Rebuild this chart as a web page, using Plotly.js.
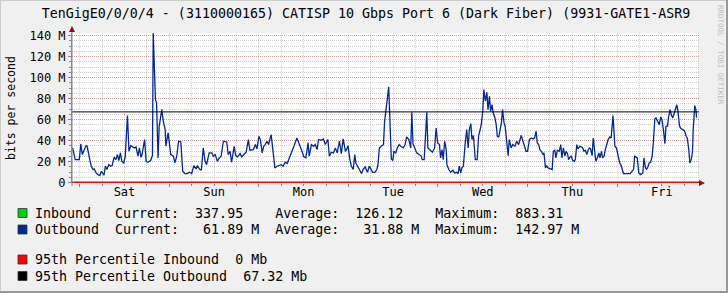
<!DOCTYPE html>
<html><head><meta charset="utf-8">
<script src="https://cdn.plot.ly/plotly-3.0.1.min.js"></script>
<style>html,body{margin:0;padding:0;background:#F0F0F0;}#chart{width:728px;height:293px;}</style>
</head><body><div id="chart"></div>
<script>
// ---- data (hours since Saturday 00:00, Mbps) ----
const outT = [-1.9,-1.2,-0.1,0.3,0.7,1.2,1.7,2.0,2.4,2.8,3.1,3.6,3.9,4.4,4.9,5.4,5.8,6.2,6.5,6.9,7.3,7.8,8.3,8.7,9.2,9.7,10.1,10.5,10.9,11.3,11.8,12.2,12.8,13.2,13.7,14.3,14.7,15.1,15.6,16.0,16.4,16.7,17.4,17.8,18.3,19.0,19.5,19.7,20.3,20.6,21.0,21.3,22.0,22.4,22.9,23.1,23.7,24.4,25.1,25.5,26.0,26.5,27.1,27.6,28.2,28.8,29.4,30.0,30.6,31.2,31.5,32.1,32.6,33.1,33.6,34.0,34.7,35.4,35.8,36.3,36.9,37.4,37.9,38.5,39.4,39.8,40.3,40.7,41.4,41.8,42.3,43.0,43.4,44.0,44.6,45.2,45.6,46.5,47.1,47.5,48.0,48.4,48.9,49.3,49.7,50.2,50.6,51.3,51.7,52.3,52.9,53.5,54.0,54.5,55.1,55.6,56.2,56.7,57.4,58.2,58.8,59.4,60.0,60.6,61.2,61.5,62.1,62.7,63.1,63.6,64.0,64.7,65.3,65.8,66.5,66.9,67.4,68.0,68.5,69.0,69.6,70.1,70.6,71.2,71.5,71.9,72.4,72.8,73.3,73.7,74.0,74.6,75.1,75.5,76.0,76.5,77.1,77.6,78.0,78.5,79.1,79.6,79.9,80.3,80.8,81.4,81.7,82.1,82.4,82.8,83.2,83.5,83.9,84.2,84.7,85.1,85.6,86.0,86.7,87.2,87.6,88.2,88.7,89.0,89.3,89.8,90.3,90.9,91.4,91.8,92.3,92.6,93.0,93.3,93.9,94.5,95.1,95.5,95.9,96.4,96.7,97.1,97.4,97.8,98.2,98.4,98.9,99.4,100.0,100.5,101.0,101.4,101.7,102.1,102.4,102.8,103.3,103.7,104.1,104.4,104.8,105.1,105.5,106.0,106.5,106.9,107.3,107.6,108.0,108.3,108.7,109.1,109.4,109.8,110.1,110.5,110.8,111.2,111.6,111.9,112.3,112.6,113.0,113.3,113.7,114.0,114.4,114.8,115.1,115.6,116.0,116.6,117.1,117.6,118.3,118.7,119.1,119.6,120.0,120.5,121.0,121.5,121.9,122.3,122.6,123.0,123.3,123.7,124.1,124.4,124.8,125.1,125.5,126.0,126.6,126.9,127.3,127.6,128.0,128.5,128.9,129.2,129.6,130.0,130.3,130.7,131.0,131.4,131.7,132.1,132.5,132.8,133.2,133.5,134.0,134.4,134.8,135.1,135.5,135.9,136.2,136.6,136.9,137.3,137.6,138.0,138.3,138.7,139.1,139.4,139.8,140.1,140.5,140.8,141.2,141.6,142.0,142.4,142.9,143.4,143.8,144.2,144.7,145.1,145.7,146.6,147.5,148.0,148.4,148.7,149.1,149.4,149.8,150.3,150.9,151.2,151.6,151.9,152.3,152.6,153.0,153.4,153.7,154.1,154.4,155.0,155.3,155.7,156.0,156.4,156.8,157.1,157.5,157.8,158.2,158.5,158.9,159.2,159.6,160.0,160.3,160.7,161.0,161.4,161.7,162.1,162.5,162.8,163.2,163.5,163.9,164.2,164.4,164.8,165.1,165.3];
const outV = [33.0,21.9,21.9,36.8,26.7,30.8,35.2,34.6,25.1,20.3,15.6,12.4,13.0,9.2,7.6,6.7,10.8,9.2,7.0,15.6,12.4,17.1,15.6,16.2,24.1,21.9,26.7,21.0,28.2,20.3,18.7,24.8,63.8,29.8,35.2,33.7,33.0,34.0,25.1,33.0,24.1,26.7,41.0,20.3,19.4,21.0,25.7,142.97,79.0,75.9,23.5,53.7,69.5,58.4,50.5,34.6,47.3,26.7,25.1,18.7,25.1,39.4,38.7,10.8,8.6,8.6,9.8,8.6,16.2,13.0,16.2,13.0,11.7,33.0,20.3,17.1,28.3,28.3,25.1,26.7,20.3,23.5,25.1,39.4,38.7,26.7,29.8,19.4,34.6,25.7,24.4,27.6,24.4,26.7,28.9,41.0,30.8,31.4,36.2,32.0,44.1,41.0,28.3,34.6,36.2,39.4,36.2,45.7,34.6,14.0,15.6,16.2,17.1,15.6,19.4,18.1,23.5,26.7,34.6,42.5,37.8,31.4,25.1,23.5,37.8,25.1,36.2,34.6,36.2,31.4,41.0,40.3,41.6,36.2,41.0,25.1,28.9,28.3,33.0,28.3,39.4,27.6,41.6,29.8,31.4,35.2,21.9,15.6,12.4,26.7,18.7,14.0,10.8,8.6,13.0,14.9,9.8,15.6,13.0,9.8,9.8,12.4,16.2,33.0,34.6,36.2,58.4,74.3,79.0,91.1,42.5,22.5,21.0,29.8,28.3,33.0,36.2,34.6,33.0,36.2,43.5,41.0,33.0,67.0,37.1,33.0,28.3,26.7,25.7,21.9,21.9,41.0,67.0,33.0,30.8,28.9,33.0,52.0,37.8,36.2,23.5,31.4,21.9,39.4,31.4,17.1,12.4,9.8,11.7,9.2,9.8,8.6,15.6,9.2,14.0,15.6,37.8,50.5,33.0,50.5,56.2,41.0,44.8,21.9,21.9,44.8,50.5,55.2,67.9,88.6,77.5,86.0,69.5,82.2,67.9,74.3,66.3,62.5,55.2,44.1,43.5,50.5,56.8,69.5,56.8,53.7,37.8,25.7,41.0,33.0,36.2,34.6,39.4,36.2,44.8,39.4,36.2,29.8,29.8,41.0,42.5,41.6,42.5,48.9,37.8,36.2,31.4,29.8,26.7,28.3,14.0,16.2,14.0,13.0,12.4,29.8,30.8,23.5,30.8,29.8,36.2,23.5,33.0,25.1,29.8,27.6,21.9,24.4,25.1,21.3,20.3,21.9,36.2,32.1,34.6,34.0,33.0,29.8,30.8,26.7,30.8,33.0,32.1,25.7,42.5,29.8,20.3,23.5,28.3,23.5,29.8,23.5,25.1,30.8,36.2,41.0,43.5,42.5,63.8,34.6,33.0,25.1,18.7,16.2,8.6,8.6,8.6,10.8,12.4,25.1,24.4,23.5,9.2,7.6,9.2,23.5,14.0,12.4,15.6,18.7,19.4,25.7,37.8,60.6,61.6,56.8,55.2,62.5,60.0,50.5,37.1,53.7,53.7,62.5,69.5,64.8,61.6,64.8,69.5,74.3,67.9,54.3,52.0,50.5,49.8,48.9,44.1,42.5,31.4,18.7,22.5,29.8,51.1,73.3,69.5,61.89];
const inT = [-1.9, 30.0, 60.0, 90.0, 120.0, 150.0, 165.3];
const inV = [0.00012, 0.00009, 0.00015, 0.00011, 0.00013, 0.00010, 0.00034];
const p95In = 0;      // Mb
const p95Out = 67.32; // Mb
const xRange = [-2.06, 165.94];
const yRange = [-0.4, 142.46];
const dayNoon = [12, 36, 60, 84, 108, 132, 156];
const dayNames = ['Sat', 'Sun', 'Mon', 'Tue', 'Wed', 'Thu', 'Fri'];
const yTickVals = [0, 20, 40, 60, 80, 100, 120, 140];
const yTickText = ['0', '20 M', '40 M', '60 M', '80 M', '100 M', '120 M', '140 M'];
const seriesNames = ['Inbound', 'Outbound'];
const seriesColors = ['#00CF00', '#002A97'];
const curVals = ['337.95', '61.89'];
const avgVals = ['126.12', '31.88'];
const maxVals = ['883.31', '142.97'];
const units = ['', ' M'];
const pctNames = ['95th Percentile Inbound', '95th Percentile Outbound'];
const pctVals = [p95In, p95Out];
const pctColors = ['#FF0000', '#000000'];
const titleText = 'TenGigE0/0/0/4 - (3110000165) CATISP 10 Gbps Port 6 (Dark Fiber) (9931-GATE1-ASR9';

// ---- geometry helpers (pixel -> paper) ----
const W = 728, H = 293, L = 72, R = 29, T = 33, B = 110;
const pw = W - L - R, ph = H - T - B;
const px = x => (x - L) / pw;
const py = y => (H - B - y) / ph;
const MONO = 'DejaVu Sans Mono';
const nb = s => s.replace(/ /g, '\u00A0');
const majorGrid = 'rgba(235,0,0,0.24)';
const minorGrid = 'rgba(130,130,130,0.38)';

const traces = [
  {x: inT, y: inV, type: 'scatter', mode: 'lines', fill: 'tozeroy',
   line: {color: seriesColors[0], width: 0.5}, fillcolor: seriesColors[0], hoverinfo: 'skip'},
  {x: outT, y: outV, type: 'scatter', mode: 'lines',
   line: {color: seriesColors[1], width: 1.3}, hoverinfo: 'skip'},
  {x: xRange, y: [p95Out, p95Out], type: 'scatter', mode: 'lines',
   line: {color: pctColors[1], width: 1}, hoverinfo: 'skip'},
  {x: xRange, y: [p95In, p95In], xaxis: 'x2', type: 'scatter', mode: 'lines',
   line: {color: pctColors[0], width: 2}, hoverinfo: 'skip'}
];

const shapes = [];
const annotations = [];
// frame
shapes.push({type:'rect', xref:'paper', yref:'paper', x0:px(0), x1:px(728), y0:py(0), y1:py(1), fillcolor:'#CBCBCB', line:{width:0}, layer:'below'});
shapes.push({type:'rect', xref:'paper', yref:'paper', x0:px(0), x1:px(1), y0:py(0), y1:py(293), fillcolor:'#CBCBCB', line:{width:0}, layer:'below'});
shapes.push({type:'rect', xref:'paper', yref:'paper', x0:px(726), x1:px(728), y0:py(0), y1:py(293), fillcolor:'#999999', line:{width:0}, layer:'below'});
shapes.push({type:'rect', xref:'paper', yref:'paper', x0:px(0), x1:px(728), y0:py(291), y1:py(293), fillcolor:'#999999', line:{width:0}, layer:'below'});
// right edge dotted grid
shapes.push({type:'line', xref:'paper', yref:'paper', x0:px(698.5), x1:px(698.5), y0:py(33), y1:py(183), line:{color:majorGrid, width:1, dash:'1px,1px'}});
// y axis extension and arrow
shapes.push({type:'line', xref:'paper', yref:'paper', x0:px(72), x1:px(72), y0:py(186), y1:py(30), line:{color:'#8a8a8a', width:1}});
shapes.push({type:'path', xref:'paper', yref:'paper',
  path:`M ${px(69)} ${py(32)} L ${px(75)} ${py(32)} L ${px(72)} ${py(26)} Z`, fillcolor:'#8B1010', line:{width:0}});
// x axis arrow
shapes.push({type:'path', xref:'paper', yref:'paper',
  path:`M ${px(699)} ${py(180)} L ${px(699)} ${py(186)} L ${px(705)} ${py(183)} Z`, fillcolor:'#8B1010', line:{width:0}});

// watermark
annotations.push({text:'RRDTOOL / TOBI OETIKER', xref:'paper', yref:'paper', x:px(720), y:py(55),
  xanchor:'center', yanchor:'middle', textangle:90, showarrow:false,
  font:{family:MONO, size:7.5, color:'#BDBDBD'}});
// y axis title
annotations.push({text:'bits per second', xref:'paper', yref:'paper', x:px(11), y:py(108),
  xanchor:'center', yanchor:'middle', textangle:-90, showarrow:false,
  font:{family:MONO, size:11.5, color:'#000'}});

// legend rows
const rowsY = [213, 229.5, 259.5, 276];
function legendRow(yc, color, text) {
  shapes.push({type:'rect', xref:'paper', yref:'paper', x0:px(18), x1:px(27), y0:py(yc+4.5), y1:py(yc-4.5),
    fillcolor:color, line:{color:'#333', width:0.8}});
  annotations.push({text:nb(text), xref:'paper', yref:'paper', x:px(33), y:py(yc), xanchor:'left', yanchor:'middle',
    showarrow:false, font:{family:MONO, size:13.3, color:'#000'}});
}
for (let i = 0; i < 2; i++) {
  const line = seriesNames[i].padEnd(10) + 'Current:' + curVals[i].padStart(8) + units[i].padEnd(2) + '  ' +
    'Average:' + avgVals[i].padStart(8) + units[i].padEnd(2) + '  ' +
    'Maximum:' + maxVals[i].padStart(8) + units[i];
  legendRow(rowsY[i], seriesColors[i], line);
}
for (let i = 0; i < 2; i++) {
  legendRow(rowsY[2 + i], pctColors[i], pctNames[i] + '  ' + pctVals[i] + ' Mb');
}

const layout = {
  width: W, height: H,
  margin: {l: L, r: R, t: T, b: B, pad: 0},
  paper_bgcolor: '#F0F0F0', plot_bgcolor: '#FFFFFF',
  font: {family: MONO, size: 12, color: '#000'},
  showlegend: false,
  title: {text: titleText, xref: 'container', yref: 'container', x: 366 / W, xanchor: 'center',
          y: 1 - 13 / H, yanchor: 'middle', font: {family: MONO, size: 13.3, color: '#000'}},
  xaxis: {range: xRange, tickmode: 'linear', tick0: 0, dtick: 24, showticklabels: false,
          showgrid: true, gridcolor: majorGrid, griddash: '1px,1px', gridwidth: 1,
          ticks: 'outside', ticklen: 3, tickcolor: '#8a8a8a', tickwidth: 1,
          showline: false, zeroline: false, automargin: false, fixedrange: true,
          minor: {tickmode: 'linear', tick0: 0, dtick: 6, showgrid: true, gridcolor: minorGrid,
                  griddash: '1px,1px', gridwidth: 1, ticks: 'outside', ticklen: 2, tickcolor: '#8a8a8a'}},
  xaxis2: {range: xRange, overlaying: 'x', anchor: 'y', side: 'bottom',
           tickmode: 'array', tickvals: dayNoon, ticktext: dayNames, ticks: '',
           showgrid: false, zeroline: false, showline: false, automargin: false, fixedrange: true,
           tickfont: {family: MONO, size: 12, color: '#000'}},
  yaxis: {range: yRange, tickmode: 'array', tickvals: yTickVals, ticktext: yTickText,
          showgrid: true, gridcolor: majorGrid, griddash: '1px,1px', gridwidth: 1,
          ticks: 'outside', ticklen: 3, tickcolor: '#8a8a8a', tickwidth: 1,
          showline: true, linecolor: '#8a8a8a', linewidth: 1, zeroline: false,
          automargin: false, fixedrange: true, tickfont: {family: MONO, size: 12, color: '#000'},
          minor: {tickmode: 'linear', tick0: 0, dtick: 5, showgrid: true, gridcolor: minorGrid,
                  griddash: '1px,1px', gridwidth: 1, ticks: 'outside', ticklen: 2, tickcolor: '#8a8a8a'}},
  shapes: shapes,
  annotations: annotations
};

Plotly.newPlot('chart', traces, layout, {staticPlot: true, displayModeBar: false});
</script>
</body></html>
